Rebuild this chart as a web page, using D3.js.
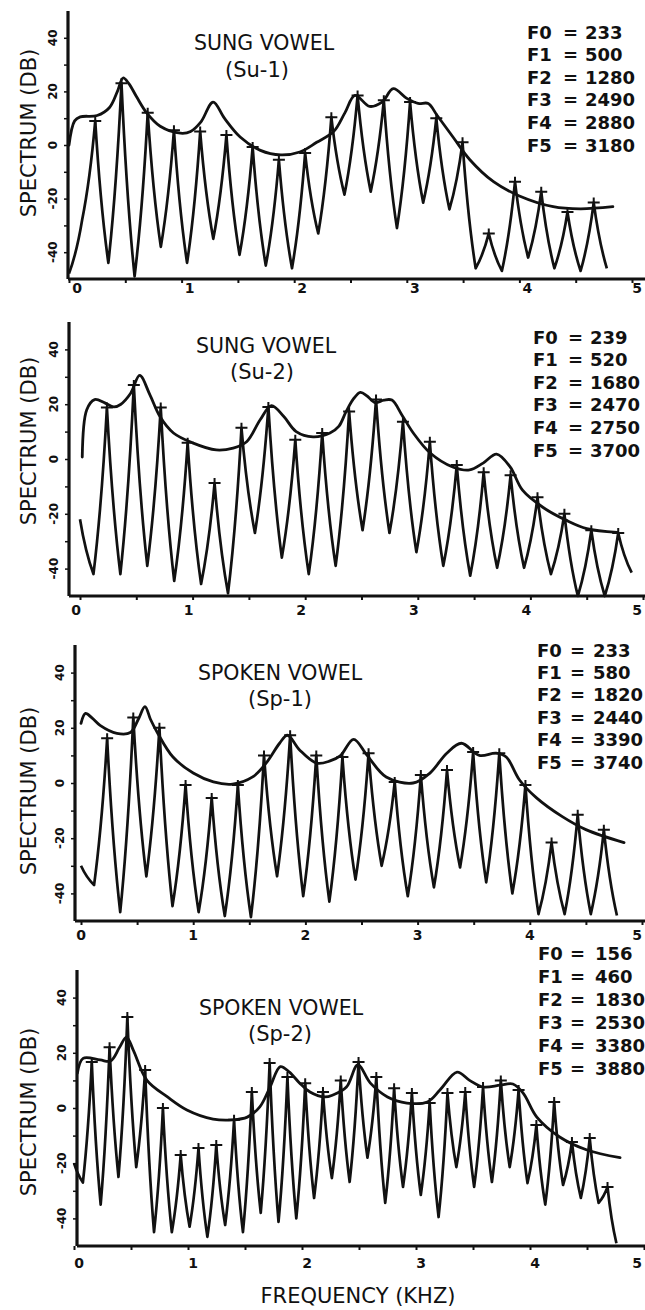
<!DOCTYPE html>
<html><head><meta charset="utf-8">
<script src="https://cdn.jsdelivr.net/npm/d3@7"></script>
<style>body{margin:0;background:#fff}svg{display:block}</style>
</head><body>
<svg id="chart" width="645" height="1310"></svg>
<script>
// ---------- shared tick data ----------
const xTickValues = [0, 1, 2, 3, 4, 5];
const xMinorTicks = [0, 0.5, 1, 1.5, 2, 2.5, 3, 3.5, 4, 4.5, 5];
const yTickValues = [40, 20, 0, -20, -40];
const yMinorTicks = [-40, -30, -20, -10, 0, 10, 20, 30, 40];
const formantNames = ["F0", "F1", "F2", "F3", "F4", "F5"];

// ---------- Su-1 ----------
const su1Formants = [233, 500, 1280, 2490, 2880, 3180];
const su1Harmonics = [233, 466, 699, 932, 1165, 1398, 1631, 1864, 2097, 2330, 2563, 2796, 3029, 3262, 3495, 3728, 3961, 4194, 4427, 4660];
const su1Peaks = [9, 23, 12, 5.5, 5, 3.7, -0.7, -5.5, -3, 10.4, 18.5, 16.7, 16, 10, 1, -33, -13.7, -17.4, -25, -21.5];
const su1Valleys = [-44, -49, -38, -44, -35, -41, -45, -46, -33, -18.5, -17.4, -31, -21.5, -24, -46, -47, -42, -46, -47, -46];
const su1Start = [-48, -28];
const su1Envelope = [[0.0, 0], [0.05, 9], [0.1, 10.5], [0.25, 11], [0.36, 14], [0.43, 20], [0.48, 25], [0.53, 23], [0.6, 18], [0.69, 12], [0.81, 7], [0.99, 4.4], [1.08, 5], [1.17, 8.5], [1.28, 16], [1.38, 10], [1.52, 3], [1.70, -2], [1.88, -3.7], [2.05, -2.6], [2.2, 1], [2.35, 5], [2.45, 12], [2.54, 18.5], [2.67, 14.4], [2.78, 16], [2.88, 21], [3.0, 17.4], [3.1, 15.5], [3.19, 15.5], [3.27, 11], [3.41, 3], [3.56, -5.5], [3.77, -13.7], [4.0, -19], [4.3, -23], [4.54, -23.8], [4.83, -23]];

// ---------- Su-2 ----------
const su2Formants = [239, 520, 1680, 2470, 2750, 3700];
const su2Harmonics = [239, 478, 717, 956, 1195, 1434, 1673, 1912, 2151, 2390, 2629, 2868, 3107, 3346, 3585, 3824, 4063, 4302, 4541, 4780];
const su2Peaks = [18.8, 27, 18.8, 5.9, -8.8, 11.4, 19, 7, 9.5, 17.3, 21.7, 13.6, 6.3, -2.2, -4.8, -5.9, -14, -20, -26, -27];
const su2Valleys = [-42, -39, -44.5, -45.6, -49, -27, -36, -42, -39, -26, -27, -34, -39, -42.6, -39.7, -39.7, -42, -50, -50, -41.5];
const su2Start = [-22, -42];
const su2Envelope = [[0.02, 0.7], [0.06, 18], [0.13, 21.7], [0.22, 20.5], [0.30, 19], [0.36, 19.9], [0.45, 24], [0.53, 30.5], [0.62, 23.5], [0.71, 15.5], [0.83, 9.5], [1.0, 5.9], [1.21, 3.3], [1.36, 4], [1.48, 6.3], [1.60, 14.3], [1.70, 19.5], [1.81, 15.5], [1.92, 10], [2.07, 8.1], [2.22, 9.5], [2.30, 12], [2.36, 17], [2.43, 22], [2.49, 24.3], [2.55, 23], [2.62, 20.6], [2.70, 21.5], [2.77, 21.5], [2.86, 16], [2.96, 9.5], [3.11, 2.2], [3.31, -2.9], [3.46, -4], [3.58, -1.5], [3.70, 1.8], [3.82, -2.9], [3.93, -11.4], [4.11, -17.6], [4.32, -22.4], [4.50, -25.4], [4.77, -26.8]];

// ---------- Sp-1 ----------
const sp1Formants = [233, 580, 1820, 2440, 3390, 3740];
const sp1Harmonics = [233, 466, 699, 932, 1165, 1398, 1631, 1864, 2097, 2330, 2563, 2796, 3029, 3262, 3495, 3728, 3961, 4194, 4427, 4660];
const sp1Peaks = [16.2, 23.7, 20, -0.7, -5.4, -0.7, 10, 17.3, 10, 9.4, 10.8, 0.4, 2.9, 4.7, 11.2, 10.8, -0.7, -21.6, -11.5, -16.9];
const sp1Valleys = [-46.8, -33.8, -44.6, -46.8, -48.2, -48.6, -33.8, -41, -43, -35, -30, -41, -37.8, -30.6, -36, -40, -47.5, -47.5, -47.5, -48];
const sp1Start = [-30, -37];
const sp1Envelope = [[0.0, 21.6], [0.04, 25.2], [0.10, 23.5], [0.17, 20.9], [0.32, 18], [0.44, 18.3], [0.51, 23], [0.57, 27.7], [0.62, 23], [0.68, 18.3], [0.82, 9.4], [1.0, 3.6], [1.18, 0.4], [1.35, -0.4], [1.53, 2.2], [1.65, 7.2], [1.77, 14.4], [1.84, 17.3], [1.95, 11.9], [2.10, 7.2], [2.22, 8], [2.31, 9.8], [2.43, 15.8], [2.55, 10], [2.72, 2.2], [2.96, 0], [3.11, 3.6], [3.26, 10.8], [3.39, 14.4], [3.55, 10], [3.70, 10.8], [3.79, 9.4], [3.91, 1], [4.06, -5.4], [4.29, -12.2], [4.50, -16.9], [4.84, -21.6]];

// ---------- Sp-2 ----------
const sp2Formants = [156, 460, 1830, 2530, 3380, 3880];
const sp2Harmonics = [156, 312, 468, 624, 780, 936, 1092, 1248, 1404, 1560, 1716, 1872, 2028, 2184, 2340, 2496, 2652, 2808, 2964, 3120, 3276, 3432, 3588, 3744, 3900, 4056, 4212, 4368, 4524, 4680];
const sp2Peaks = [16.7, 22, 33, 13.8, 0, -17, -14.5, -13.4, -4.3, 5.8, 16.3, 11.2, 9, 5.8, 10, 16.7, 11.2, 7.2, 5.4, 1.8, 5.4, 5.8, 7.6, 10, 6.5, -6.2, 2.2, -12.3, -10.9, -28.6];
const sp2Valleys = [-35, -25, -21.4, -45, -45, -43, -46.7, -42.4, -45, -38, -41.3, -40, -32.6, -25.4, -26.8, -18, -34.4, -28.6, -31.5, -39.5, -21.4, -28.6, -26.8, -21.4, -27.2, -35, -27.9, -32.6, -34.4, -49];
const sp2Start = [-20, -27];
const sp2Envelope = [[0.03, 12.7], [0.08, 18], [0.23, 17.4], [0.32, 17], [0.40, 22], [0.46, 25.7], [0.52, 21], [0.64, 10], [0.82, 4], [0.99, -0.7], [1.22, -4], [1.39, -4.3], [1.52, -3.3], [1.63, 0.4], [1.72, 7.6], [1.81, 15], [1.89, 13], [1.98, 9], [2.07, 5.8], [2.20, 4], [2.27, 4.7], [2.39, 7.6], [2.49, 15.6], [2.60, 9], [2.75, 4], [2.92, 1.8], [3.10, 2.2], [3.21, 6.5], [3.36, 13], [3.47, 10], [3.59, 7.6], [3.74, 8.3], [3.85, 8.7], [3.94, 5.4], [4.06, -3.3], [4.26, -10.5], [4.50, -15.2], [4.79, -18]];

// ---------- layout (positions / sizes only) ----------
const panels = [
  {title: "SUNG VOWEL", sub: "(Su-1)", harm: su1Harmonics, peaks: su1Peaks, valleys: su1Valleys, start: su1Start, env: su1Envelope, formants: su1Formants,
   L: {axisX: 68, x0: 69, x5: 632, yZero: 145, pxDb: 2.68, titleX: 264, titleY: 50, subX: 257, subY: 77, labelY: 133, fx: [527, 563, 585], fy0: 32, fdy: 22.6, tickDx: 8, tickY: 293}},
  {title: "SUNG VOWEL", sub: "(Su-2)", harm: su2Harmonics, peaks: su2Peaks, valleys: su2Valleys, start: su2Start, env: su2Envelope, formants: su2Formants,
   L: {axisX: 69, x0: 80, x5: 643, yZero: 459, pxDb: 2.74, titleX: 266, titleY: 353, subX: 262, subY: 379, labelY: 441, fx: [533, 568, 590], fy0: 337, fdy: 22.6, tickDx: -4, tickY: 615}},
  {title: "SPOKEN VOWEL", sub: "(Sp-1)", harm: sp1Harmonics, peaks: sp1Peaks, valleys: sp1Valleys, start: sp1Start, env: sp1Envelope, formants: sp1Formants,
   L: {axisX: 75, x0: 81, x5: 642, yZero: 783, pxDb: 2.76, titleX: 280, titleY: 680, subX: 280, subY: 706, labelY: 791, fx: [537, 570, 593], fy0: 650, fdy: 22.4, tickDx: 0, tickY: 940}},
  {title: "SPOKEN VOWEL", sub: "(Sp-2)", harm: sp2Harmonics, peaks: sp2Peaks, valleys: sp2Valleys, start: sp2Start, env: sp2Envelope, formants: sp2Formants,
   L: {axisX: 77, x0: 74, x5: 644, yZero: 1108, pxDb: 2.76, titleX: 281, titleY: 1015, subX: 280, subY: 1041, labelY: 1112, fx: [538, 570, 595], fy0: 953, fdy: 23, tickDx: 5, tickY: 1268}}
];

// custom d3 curve: sharp harmonic spikes with concave flanks
function SpikeCurve(context) { this._context = context; }
SpikeCurve.prototype = {
  areaStart() {}, areaEnd() {},
  lineStart() { this._p = null; },
  lineEnd() {},
  point(x, y) {
    x = +x; y = +y;
    if (!this._p) { this._context.moveTo(x, y); }
    else {
      const [x0, y0] = this._p;
      const k = 0.6;
      let cx, cy;
      if (y < y0) { cx = x0 + k * (x - x0); cy = y0 + (1 - k) * (y - y0); }
      else { cx = x0 + (1 - k) * (x - x0); cy = y0 + k * (y - y0); }
      this._context.quadraticCurveTo(cx, cy, x, y);
    }
    this._p = [x, y];
  }
};
const curveSpike = ctx => new SpikeCurve(ctx);

const svg = d3.select("#chart");
const FONT = "'DejaVu Sans', sans-serif";

panels.forEach(p => {
  const L = p.L;
  const x = d3.scaleLinear().domain([0, 5]).range([L.x0, L.x5]);
  const y = d3.scaleLinear().domain([-50, 50]).range([L.yZero + 50 * L.pxDb, L.yZero - 50 * L.pxDb]);
  const g = svg.append("g");

  // spectrum vertices: start, then alternating harmonic peaks and valleys
  const pts = [[0, p.start[0]], [p.harm[0] / 2000, p.start[1]]];
  p.harm.forEach((h, i) => {
    pts.push([h / 1000, p.peaks[i]]);
    const next = i < p.harm.length - 1 ? p.harm[i + 1] : h + (h - p.harm[i - 1]);
    pts.push([(h + next) / 2000, p.valleys[i]]);
  });
  const spec = d3.line().x(d => x(d[0])).y(d => y(d[1])).curve(curveSpike);
  g.append("path").attr("d", spec(pts)).attr("fill", "none").attr("stroke", "#111")
    .attr("stroke-width", 2.7).attr("stroke-linejoin", "round");

  // envelope
  const envLine = d3.line().x(d => x(d[0])).y(d => y(d[1])).curve(d3.curveCatmullRom.alpha(0.5));
  g.append("path").attr("d", envLine(p.env)).attr("fill", "none").attr("stroke", "#111")
    .attr("stroke-width", 2.8).attr("stroke-linecap", "round");

  // crosses at harmonic amplitudes
  g.selectAll(".cross").data(p.harm.map((h, i) => [h / 1000, p.peaks[i]])).join("path")
    .attr("d", d => {
      const cx = x(d[0]), cy = y(d[1]);
      return `M${cx - 6},${cy}H${cx + 6}M${cx},${cy - 5}V${cy + 4}`;
    })
    .attr("stroke", "#111").attr("stroke-width", 2).attr("fill", "none");

  // y axis
  const yAxis = d3.axisLeft(y).tickValues(yMinorTicks).tickSize(4).tickFormat("");
  const ya = g.append("g").attr("transform", `translate(${L.axisX},0)`).call(yAxis);
  ya.select(".domain").remove();
  ya.selectAll(".tick line").attr("stroke", "#111").attr("stroke-width", 1.5);
  g.append("line").attr("x1", L.axisX).attr("x2", L.axisX).attr("y1", y(50)).attr("y2", y(-50))
    .attr("stroke", "#111").attr("stroke-width", 3.2);
  g.selectAll(".ylab").data(yTickValues).join("text")
    .attr("transform", d => `translate(${L.axisX - 15},${y(d)}) rotate(-90)`)
    .attr("text-anchor", "middle").attr("dominant-baseline", "central")
    .attr("font-family", FONT).attr("font-weight", "bold").attr("font-size", 12)
    .attr("fill", "#111").text(d => d);

  // x axis
  const xAxis = d3.axisBottom(x).tickValues(xMinorTicks).tickSize(4).tickFormat("");
  const xa = g.append("g").attr("transform", `translate(0,${y(-50)})`).call(xAxis);
  xa.select(".domain").remove();
  xa.selectAll(".tick line").attr("stroke", "#111").attr("stroke-width", 2);
  g.append("line").attr("x1", L.axisX).attr("x2", 645).attr("y1", y(-50)).attr("y2", y(-50))
    .attr("stroke", "#111").attr("stroke-width", 3);
  g.selectAll(".xlab").data(xTickValues).join("text")
    .attr("x", d => Math.min(x(d) + L.tickDx, 637)).attr("y", L.tickY)
    .attr("text-anchor", "middle").attr("font-family", FONT).attr("font-weight", "bold")
    .attr("font-size", 14).attr("fill", "#111").text(d => d);

  // y label
  g.append("text").attr("transform", `translate(36,${L.labelY}) rotate(-90)`)
    .attr("text-anchor", "middle").attr("font-family", FONT).attr("font-size", 21)
    .attr("fill", "#111").text("SPECTRUM (DB)");

  // titles
  g.append("text").attr("x", L.titleX).attr("y", L.titleY).attr("text-anchor", "middle")
    .attr("font-family", FONT).attr("font-size", 20.5).attr("fill", "#111").text(p.title);
  g.append("text").attr("x", L.subX).attr("y", L.subY).attr("text-anchor", "middle")
    .attr("font-family", FONT).attr("font-size", 21).attr("fill", "#111").text(p.sub);

  // formant list
  p.formants.forEach((v, i) => {
    const by = L.fy0 + i * L.fdy + 6.5;
    const t = [formantNames[i], "=", v];
    t.forEach((s, j) => {
      g.append("text").attr("x", L.fx[j]).attr("y", by)
        .attr("font-family", FONT).attr("font-weight", "bold").attr("font-size", 18)
        .attr("fill", "#111").text(s);
    });
  });
});

// shared x label
svg.append("text").attr("x", 358).attr("y", 1303).attr("text-anchor", "middle")
  .attr("font-family", FONT).attr("font-size", 21).attr("fill", "#111").text("FREQUENCY (KHZ)");
</script>
</body></html>
